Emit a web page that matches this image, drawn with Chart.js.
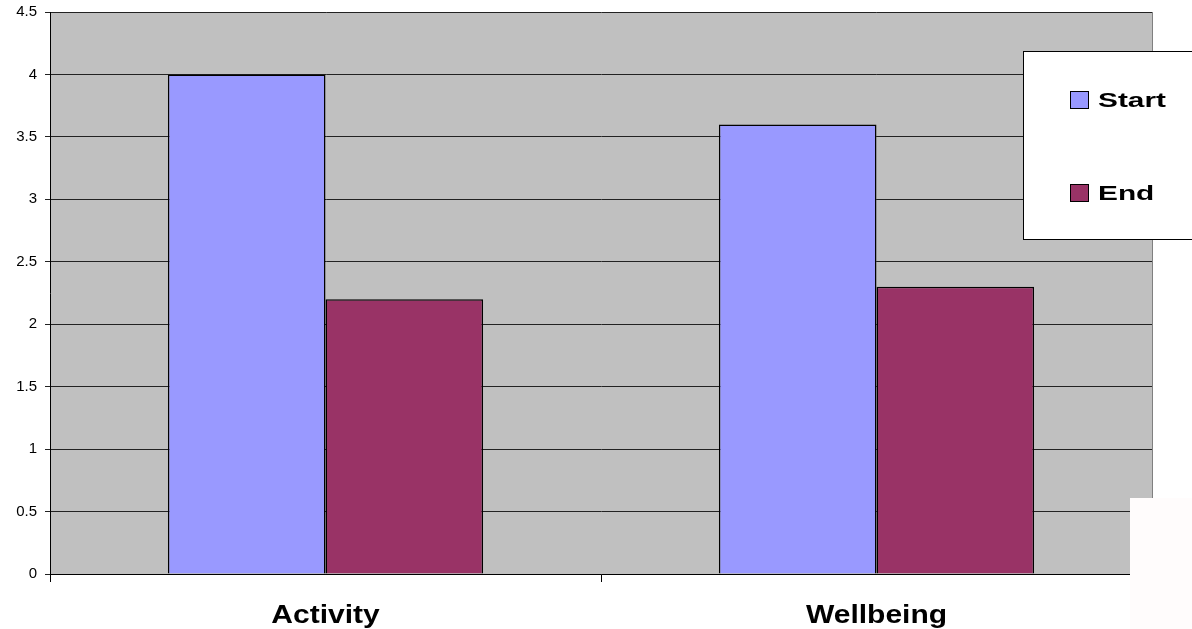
<!DOCTYPE html>
<html>
<head>
<meta charset="utf-8">
<script src="https://cdn.jsdelivr.net/npm/chart.js@4/dist/chart.umd.min.js"></script>
<style>
  html, body { margin: 0; padding: 0; background: #fff; }
  #wrap { width: 1192px; height: 629px; }
</style>
</head>
<body>
<div id="wrap"><canvas id="chart" width="1192" height="629"></canvas></div>
<script>
// Categories and series
const categories = ['Activity', 'Wellbeing'];
const startValues = [4.0, 3.6];
const endValues = [2.2, 2.3];
const seriesNames = ['Start', 'End'];

const FONT = '"Liberation Sans", Arial, sans-serif';

// draw text stretched a little wider, the way the old office charts render it
function wideText(ctx, text, x, y, align, stretch) {
  ctx.save();
  ctx.translate(x, y);
  ctx.scale(stretch, 1);
  ctx.textAlign = align;
  ctx.fillText(text, 0, 0);
  ctx.restore();
}

// Grey plot background with a thin right edge
const plotBackground = {
  id: 'plotBackground',
  beforeDraw(chart) {
    const { ctx, chartArea: a } = chart;
    ctx.save();
    ctx.fillStyle = '#c0c0c0';
    ctx.fillRect(a.left, a.top, a.right - a.left, a.bottom - a.top);
    ctx.strokeStyle = '#808080';
    ctx.lineWidth = 1;
    ctx.beginPath();
    ctx.moveTo(a.right + 0.5, a.top);
    ctx.lineTo(a.right + 0.5, a.bottom);
    ctx.stroke();
    ctx.restore();
  }
};

// Category names under the axis
const categoryLabels = {
  id: 'categoryLabels',
  afterDraw(chart) {
    const { ctx } = chart;
    const x = chart.scales.x;
    ctx.save();
    ctx.fillStyle = '#000';
    ctx.font = 'bold 25px ' + FONT;
    ctx.textBaseline = 'middle';
    chart.data.labels.forEach((label, i) => {
      wideText(ctx, label, x.getPixelForValue(i), 616, 'center', 1.2);
    });
    ctx.restore();
  }
};

// Boxed legend sitting over the top-right of the plot
const boxLegend = {
  id: 'boxLegend',
  afterDraw(chart) {
    const { ctx } = chart;
    ctx.save();
    ctx.fillStyle = '#fff';
    ctx.fillRect(1023, 51, 180, 188);
    ctx.strokeStyle = '#000';
    ctx.lineWidth = 1;
    ctx.strokeRect(1023.5, 51.5, 180, 188);

    const rows = [100, 193];
    chart.data.datasets.forEach((ds, i) => {
      const cy = rows[i];
      ctx.fillStyle = ds.backgroundColor;
      ctx.fillRect(1070, cy - 9, 19, 18);
      ctx.strokeStyle = '#000';
      ctx.strokeRect(1070.5, cy - 8.5, 18, 17);
      ctx.fillStyle = '#000';
      ctx.font = 'bold 21px ' + FONT;
      ctx.textBaseline = 'middle';
      wideText(ctx, ds.label, 1098, cy + 1, 'left', 1.42);
    });

    // pale patch at the lower right corner
    ctx.fillStyle = '#fffcfc';
    ctx.fillRect(1130, 498, 62, 131);
    ctx.restore();
  }
};

new Chart(document.getElementById('chart'), {
  type: 'bar',
  data: {
    labels: categories,
    datasets: [
      {
        label: seriesNames[0],
        data: startValues,
        backgroundColor: '#9999ff',
        borderColor: '#000',
        borderWidth: 1.5,
        categoryPercentage: 0.572,
        barPercentage: 1.0
      },
      {
        label: seriesNames[1],
        data: endValues,
        backgroundColor: '#993366',
        borderColor: '#000',
        borderWidth: 1.5,
        categoryPercentage: 0.572,
        barPercentage: 1.0
      }
    ]
  },
  options: {
    responsive: false,
    animation: false,
    layout: { padding: { top: 12, right: 40, left: 0, bottom: 0 } },
    plugins: {
      legend: { display: false },
      tooltip: { enabled: false }
    },
    scales: {
      x: {
        offset: true,
        afterFit(scale) {
          scale.height = 55;
          scale.paddingLeft = 0;
          scale.paddingRight = 0;
        },
        grid: {
          offset: true,
          drawOnChartArea: false,
          drawTicks: true,
          tickLength: 8,
          color: '#000'
        },
        border: { display: true, color: '#000', width: 1 },
        ticks: { display: false }
      },
      y: {
        min: 0,
        max: 4.5,
        afterFit(scale) {
          scale.width = 50;
          scale.paddingTop = 0;
          scale.paddingBottom = 0;
        },
        grid: {
          color: '#222',
          lineWidth: 1,
          tickLength: 5
        },
        border: { display: true, color: '#000', width: 1 },
        ticks: {
          stepSize: 0.5,
          color: '#000',
          padding: 8,
          callback: v => String(v),
          font: { family: FONT, size: 15 }
        }
      }
    }
  },
  plugins: [plotBackground, categoryLabels, boxLegend]
});
</script>
</body>
</html>
